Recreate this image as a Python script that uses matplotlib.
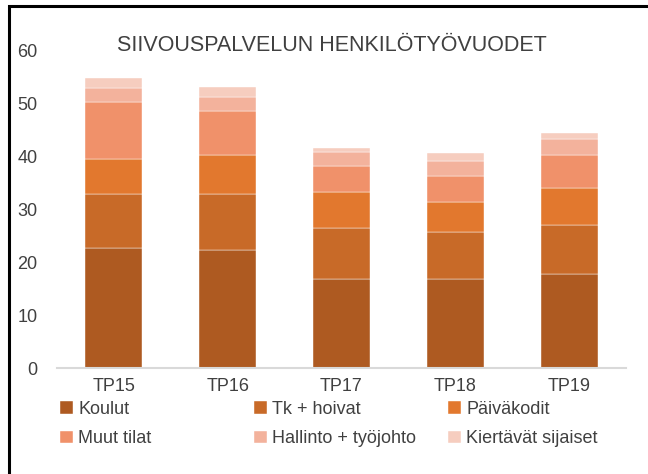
import matplotlib.pyplot as plt
import numpy as np
from matplotlib.patches import Rectangle

plt.rcParams["font.family"] = ["Liberation Sans Narrow", "Liberation Sans", "DejaVu Sans"]

# Data
periods = ["TP15", "TP16", "TP17", "TP18", "TP19"]
koulut = [22.6, 22.3, 16.8, 16.8, 17.7]
tk_hoivat = [10.2, 10.5, 9.6, 8.9, 9.2]
paivakodit = [6.7, 7.4, 6.8, 5.6, 7.0]
muut_tilat = [10.6, 8.2, 4.9, 5.0, 6.3]
hallinto = [2.7, 2.7, 2.6, 2.7, 3.1]
kiertavat = [1.9, 1.9, 0.9, 1.5, 1.0]

series = [
    ("Koulut", koulut, "#AE5A21"),
    ("Tk + hoivat", tk_hoivat, "#C86A28"),
    ("Päiväkodit", paivakodit, "#E2782E"),
    ("Muut tilat", muut_tilat, "#F0916A"),
    ("Hallinto + työjohto", hallinto, "#F3B29C"),
    ("Kiertävät sijaiset", kiertavat, "#F6CDBF"),
]

text_color = "#404040"

fig = plt.figure(figsize=(6.48, 4.74), dpi=100)
ax = fig.add_axes([0.088, 0.2236, 0.878, 0.6709])

x = np.arange(len(periods))
bottom = np.zeros(len(periods))
handles = []
for name, vals, color in series:
    bars = ax.bar(x, vals, width=0.5, bottom=bottom, color=color, label=name,
                  edgecolor="#FFFFFF", linewidth=0.3)
    handles.append(bars)
    bottom += np.array(vals)

ax.set_xlim(-0.5, len(periods) - 0.5)
ax.set_ylim(0, 60)
ax.set_yticks(range(0, 61, 10))
ax.set_xticks(x)
ax.set_xticklabels(periods)
ax.tick_params(axis="both", length=0, labelsize=13, colors=text_color)
ax.tick_params(axis="y", pad=14)
ax.tick_params(axis="x", pad=7)

for side in ["top", "right", "left"]:
    ax.spines[side].set_visible(False)
ax.spines["bottom"].set_color("#D9D9D9")
ax.spines["bottom"].set_linewidth(1.5)

fig.text(0.512, 0.905, "SIIVOUSPALVELUN HENKILÖTYÖVUODET", ha="center",
         va="center", fontsize=15.5, color=text_color)

# legend laid out row by row in three fixed columns
col_x = [60 / 648, 254 / 648, 448 / 648]
for col, x0 in enumerate(col_x):
    idx = [col, col + 3]
    leg = fig.legend([handles[i] for i in idx], [series[i][0] for i in idx],
                     loc="upper left", bbox_to_anchor=(x0, 0.154), ncol=1,
                     frameon=False, fontsize=13, handlelength=0.7,
                     handleheight=0.7, handletextpad=0.3, labelspacing=0.68,
                     borderaxespad=0, borderpad=0)
    for t in leg.get_texts():
        t.set_color(text_color)

# black frame cut off at right and bottom, as in the screenshot
fig.patches.append(Rectangle((9 / 648, -0.1), 1.2, 1 - 6 / 474 + 0.1,
                             transform=fig.transFigure, fill=False,
                             edgecolor="black", linewidth=2.2))

fig.savefig("out.png", dpi=100)
